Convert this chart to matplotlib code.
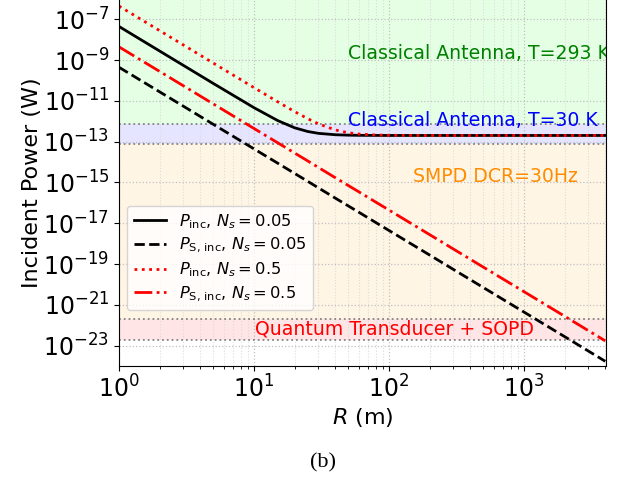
import numpy as np
import matplotlib
matplotlib.use('Agg')
import matplotlib.pyplot as plt

# distance (m)
R = [1, 2, 5, 10, 15, 20, 25, 30, 40, 50, 60, 80, 100, 200, 500, 1000, 2000, 4000]

# incident power (W)
p_inc_005 = [4.4e-8, 2.75e-9, 7.06e-11, 4.6e-12, 1.07e-12, 4.75e-13, 3.13e-13, 2.54e-13, 2.17e-13,
             2.07e-13, 2.03e-13, 2.01e-13, 2.0e-13, 2.0e-13, 2.0e-13, 2.0e-13, 2.0e-13, 2.0e-13]
p_s_005 = [4.4e-10, 2.75e-11, 7.0e-13, 4.4e-14, 8.7e-15, 2.75e-15, 1.13e-15, 5.4e-16, 1.7e-16,
           7.0e-17, 3.4e-17, 1.07e-17, 4.4e-18, 2.75e-19, 7.0e-21, 4.4e-22, 2.75e-23, 1.7e-24]
p_inc_05 = [4.4e-7, 2.75e-8, 7.04e-10, 4.42e-11, 8.89e-12, 2.95e-12, 1.33e-12, 7.43e-13, 3.72e-13,
            2.7e-13, 2.34e-13, 2.11e-13, 2.04e-13, 2.0e-13, 2.0e-13, 2.0e-13, 2.0e-13, 2.0e-13]
p_s_05 = [4.4e-9, 2.75e-10, 7.0e-12, 4.4e-13, 8.7e-14, 2.75e-14, 1.13e-14, 5.4e-15, 1.7e-15,
          7.0e-16, 3.4e-16, 1.07e-16, 4.4e-17, 2.75e-18, 7.0e-20, 4.4e-21, 2.75e-22, 1.7e-23]

# sensitivity limits (W)
lim_293K = 7.5e-13
lim_30K = 7.68e-14
lim_smpd = 2.0e-22
lim_qt = 1.8e-23

ymin, ymax = 1e-24, 1e-6
xmin, xmax = 1, 4050

fig = plt.figure(figsize=(6.35, 4.78), dpi=100)
ax = fig.add_axes([119/635, 112/478, 487/635, 367.2/478])

ax.axhspan(lim_293K, ymax, color='lime', alpha=0.1, lw=0)
ax.axhspan(lim_30K, lim_293K, color='blue', alpha=0.1, lw=0)
ax.axhspan(lim_smpd, lim_30K, color='orange', alpha=0.1, lw=0)
ax.axhspan(lim_qt, lim_smpd, color='red', alpha=0.1, lw=0)
for lim in [lim_293K, lim_30K, lim_smpd, lim_qt]:
    ax.axhline(lim, color='dimgray', ls=':', lw=1.3, alpha=0.8)

ax.plot(R, p_inc_005, 'k-', lw=2, label=r'$P_{\mathrm{inc}}$, $N_s = 0.05$')
ax.plot(R, p_s_005, 'k--', lw=2, label=r'$P_{\mathrm{S,\,inc}}$, $N_s = 0.05$')
ax.plot(R, p_inc_05, 'r:', lw=2, label=r'$P_{\mathrm{inc}}$, $N_s = 0.5$')
ax.plot(R, p_s_05, 'r-.', lw=2, label=r'$P_{\mathrm{S,\,inc}}$, $N_s = 0.5$')

ax.set_xscale('log')
ax.set_yscale('log')
ax.set_xlim(xmin, xmax)
ax.set_ylim(ymin, ymax)
ax.set_yticks(10.0 ** np.arange(-23, -6, 2))
ax.yaxis.set_minor_locator(matplotlib.ticker.NullLocator())
ax.tick_params(labelsize=17)
ax.grid(True, which='major', ls=':', color='silver', lw=0.9)
ax.grid(True, which='minor', axis='x', ls=':', color='gainsboro', lw=0.8)

ax.text(50, 2.2e-9, 'Classical Antenna, T=293 K', color='green', fontsize=13.6,
        va='center', clip_on=True)
ax.text(50, 1.1e-12, 'Classical Antenna, T=30 K', color='blue', fontsize=13.6, va='center')
ax.text(150, 2.0e-15, 'SMPD DCR=30Hz', color='darkorange', fontsize=13.6, va='center')
ax.text(10.2, 6.6e-23, 'Quantum Transducer + SOPD', color='red', fontsize=13.6, va='center')

ax.set_xlabel(r'$R$ (m)', fontsize=16, labelpad=2)
ax.set_ylabel('Incident Power (W)', fontsize=16, labelpad=1)
ax.legend(loc='lower left', bbox_to_anchor=(0.0, 0.13), fontsize=11.7, labelspacing=0.32)

fig.text(323/635, 1 - 463/478, '(b)', family='Liberation Serif', fontsize=16,
         ha='center', va='center')

fig.savefig('out.png', dpi=100)
